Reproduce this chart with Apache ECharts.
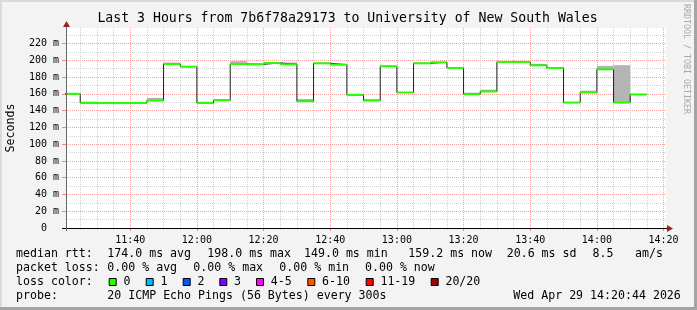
<!DOCTYPE html>
<html><head><meta charset="utf-8">
<script src="https://cdn.jsdelivr.net/npm/echarts@6/dist/echarts.min.js"></script>
<style>html,body{margin:0;padding:0;background:#f3f3f3}#c{width:697px;height:310px}</style>
</head><body><div id="c"></div>
<script>
// ---- data ----
const titleText = 'Last 3 Hours from 7b6f78a29173 to University of New South Wales';
const axisStart = '11:20:44';
const axisEnd = '14:20:44';
const stepMinutes = 5;
const stepStarts = ['11:20','11:25','11:30','11:35','11:40','11:45','11:50','11:55','12:00','12:05',
  '12:10','12:15','12:20','12:25','12:30','12:35','12:40','12:45','12:50','12:55',
  '13:00','13:05','13:10','13:15','13:20','13:25','13:30','13:35','13:40','13:45',
  '13:50','13:55','14:00','14:05','14:10'];
const medianRtt = [160.0,149.2,149.0,149.0,149.1,152.0,195.6,192.4,149.0,152.4,
  195.6,195.2,196.8,195.2,151.2,196.4,194.8,158.8,152.0,192.8,
  161.6,196.4,197.6,190.8,159.6,162.8,198.0,198.0,194.0,190.8,
  149.6,161.6,189.2,149.6,159.2];
const smokeMin = [159.6,149.0,148.8,148.8,148.9,151.6,195.2,192.0,148.8,152.0,
  195.2,194.8,196.4,194.8,150.8,196.0,194.4,158.4,151.6,192.4,
  161.2,196.0,197.2,190.4,159.2,162.4,197.6,197.6,193.6,190.4,
  149.2,161.2,188.8,149.2,158.8];
const smokeMax = [160.4,150.6,149.4,149.4,149.6,155.2,197.4,193.0,150.6,153.0,
  199.0,195.8,197.2,197.4,153.8,196.8,195.4,159.4,153.8,193.4,
  162.2,196.8,198.0,191.4,161.4,165.0,198.4,198.4,195.6,191.4,
  150.2,163.8,193.4,194.2,160.0];
const yMajorTicks = [0,20,40,60,80,100,120,140,160,180,200,220];
const yMinorTicks = [10,30,50,70,90,110,130,150,170,190,210,230];
const xTickLabels = ['11:40','12:00','12:20','12:40','13:00','13:20','13:40','14:00','14:20'];
const xMinorTicks = ['11:25','11:30','11:35','11:45','11:50','11:55','12:05','12:10','12:15',
  '12:25','12:30','12:35','12:45','12:50','12:55','13:05','13:10','13:15','13:25','13:30','13:35',
  '13:45','13:50','13:55','14:05','14:10','14:15'];
const yMax = 238.5;
const legendRows = [
  [['median rtt:',16],['174.0 ms avg',107.3],['198.0 ms max',207.3],['149.0 ms min',304],['159.2 ms now',408.3],['20.6 ms sd',506.7],['8.5',592.5],['am/s',635]],
  [['packet loss:',16],['0.00 % avg',107.3],['0.00 % max',193.3],['0.00 % min',279.3],['0.00 % now',365]],
  [['loss color:',16]],
  [['probe:',16],['20 ICMP Echo Pings (56 Bytes) every 300s',107.3],['Wed Apr 29 14:20:44 2026',513.3]]
];
const lossLabels = ['0','1','2','3','4-5','6-10','11-19','20/20'];
const lossColors = ['#26ff00','#00b8ff','#0059ff','#7e00ff','#ff00ff','#ff5500','#ff0000','#a00000'];
const lossBoxX = [108.7,145.7,182.7,219.3,256,307.3,365.7,430.7];

// ---- build ----
const toMin = s => { const p = s.split(':').map(Number); return p[0]*60 + p[1] + (p[2]||0)/60; };
const xMin = toMin(axisStart), xMax = toMin(axisEnd);
const fmt = v => { const h = Math.floor(v/60), m = Math.round(v%60); return h + ':' + String(m).padStart(2,'0'); };
const MONO = '"DejaVu Sans Mono", monospace';

const lineData = stepStarts.map((t,i)=>[toMin(t), medianRtt[i]]);
lineData.push([toMin(stepStarts[stepStarts.length-1]) + stepMinutes, medianRtt[medianRtt.length-1]]);
const segData = stepStarts.map((t,i)=>[toMin(t), toMin(t)+stepMinutes, medianRtt[i], smokeMin[i], smokeMax[i]]);

const chart = echarts.init(document.getElementById('c'), null, {renderer:'canvas'});
const G = {left:66, top:28, width:600, height:200};

const graphic = [];
graphic.push({type:'rect', shape:{x:0,y:0,width:697,height:2}, style:{fill:'#dadada'}, silent:true});
graphic.push({type:'rect', shape:{x:0,y:0,width:2,height:310}, style:{fill:'#dadada'}, silent:true});
graphic.push({type:'rect', shape:{x:694,y:0,width:3,height:310}, style:{fill:'#a4a4a4'}, silent:true});
graphic.push({type:'rect', shape:{x:0,y:307,width:697,height:3}, style:{fill:'#a4a4a4'}, silent:true});
graphic.push({type:'text', x:347.5, y:19, style:{text:titleText, font:'13.2px '+MONO, fill:'#000', align:'center', verticalAlign:'middle'}});
graphic.push({type:'text', x:686, y:4, rotation:-Math.PI/2, style:{text:'RRDTOOL / TOBI OETIKER', font:'8.3px '+MONO, fill:'#a8a8a8', align:'left', verticalAlign:'middle'}});
const rowY = [254.3, 268.3, 282.3, 296.3];
legendRows.forEach((row,r)=>row.forEach(([t,x])=>{
  graphic.push({type:'text', x:x, y:rowY[r], style:{text:t, font:'11.6px '+MONO, fill:'#000', align:'left', verticalAlign:'middle'}});
}));
lossLabels.forEach((l,i)=>{
  graphic.push({type:'rect', shape:{x:lossBoxX[i]+0.5, y:278.5, width:7, height:7}, style:{fill:lossColors[i], stroke:'#000', lineWidth:1}});
  graphic.push({type:'text', x:lossBoxX[i]+14.7, y:rowY[2], style:{text:l, font:'11.6px '+MONO, fill:'#000', align:'left', verticalAlign:'middle'}});
});
graphic.push({type:'line', shape:{x1:62, y1:228.5, x2:668, y2:228.5}, style:{stroke:'#000', lineWidth:1}, z:50});
graphic.push({type:'polygon', shape:{points:[[667,225],[667,232],[673,228.5]]}, style:{fill:'#a02020'}, z:50});
graphic.push({type:'line', shape:{x1:66.5, y1:231, x2:66.5, y2:26}, style:{stroke:'#666', lineWidth:1}, z:50});
graphic.push({type:'polygon', shape:{points:[[63,27],[70,27],[66.5,21]]}, style:{fill:'#a02020'}, z:50});

const option = {
  animation:false,
  backgroundColor:'#f3f3f3',
  grid:{left:G.left, top:G.top, width:G.width, height:G.height, show:true, backgroundColor:'#ffffff', borderWidth:0,
        containLabel:false, outerBoundsMode:'none'},
  xAxis:[
    {type:'value', min:xMin, max:xMax, gridIndex:0,
     axisLine:{show:false},
     axisTick:{show:true, length:3, customValues:xTickLabels.map(toMin), lineStyle:{color:'#e88a8a'}},
     axisLabel:{customValues:xTickLabels.map(toMin), formatter:fmt, fontFamily:MONO, fontSize:10, color:'#000', margin:7},
     splitLine:{show:true, lineStyle:{color:'#f4a0a0', type:[1,1], width:1}}},
    {type:'value', min:xMin, max:xMax, gridIndex:0, position:'bottom',
     axisLine:{show:false},
     axisTick:{show:true, length:2, customValues:xMinorTicks.map(toMin), lineStyle:{color:'#c8c8c8'}},
     axisLabel:{show:false},
     splitLine:{show:true, lineStyle:{color:'#d2d2d2', type:[1,1], width:1}}}
  ],
  yAxis:[
    {type:'value', min:0, max:yMax, gridIndex:0,
     name:'Seconds', nameLocation:'middle', nameGap:49, nameRotate:90,
     nameTextStyle:{fontFamily:MONO, fontSize:11.6, color:'#000'},
     axisLine:{show:false},
     axisTick:{show:true, length:4, customValues:yMajorTicks, lineStyle:{color:'#e88a8a'}},
     axisLabel:{customValues:yMajorTicks, formatter:v=> v===0 ? '0  ' : v+' m', fontFamily:MONO, fontSize:10, color:'#000', margin:7},
     splitLine:{show:true, lineStyle:{color:'#f4a0a0', type:[1,1], width:1}}},
    {type:'value', min:0, max:yMax, gridIndex:0, position:'left',
     axisLine:{show:false},
     axisTick:{show:false, customValues:yMinorTicks},
     axisLabel:{show:false},
     splitLine:{show:true, lineStyle:{color:'#d2d2d2', type:[1,1], width:1}}}
  ],
  series:[
    {type:'custom', xAxisIndex:0, yAxisIndex:0, data:segData, z:3, clip:true,
     renderItem:(params, api)=>{
       const x0 = Math.max(api.value(0), xMin);
       const a = api.coord([x0, api.value(4)]);
       const b = api.coord([api.value(1), api.value(3)]);
       return {type:'rect', shape:{x:a[0], y:a[1], width:b[0]-a[0], height:Math.max(b[1]-a[1],0)}, style:{fill:'#b4b4b4'}};
     }},
    {type:'line', xAxisIndex:0, yAxisIndex:0, data:lineData, step:'end', showSymbol:false, z:4,
     lineStyle:{color:'#202020', width:1}},
    {type:'custom', xAxisIndex:0, yAxisIndex:0, data:segData, z:5, clip:true,
     renderItem:(params, api)=>{
       const x0 = Math.max(api.value(0), xMin);
       const a = api.coord([x0, api.value(2)]);
       const b = api.coord([api.value(1), api.value(2)]);
       return {type:'rect', shape:{x:a[0], y:a[1]-1, width:b[0]-a[0], height:2}, style:{fill:'#26ff00'}};
     }}
  ],
  graphic:graphic
};
chart.setOption(option);
</script></body></html>
